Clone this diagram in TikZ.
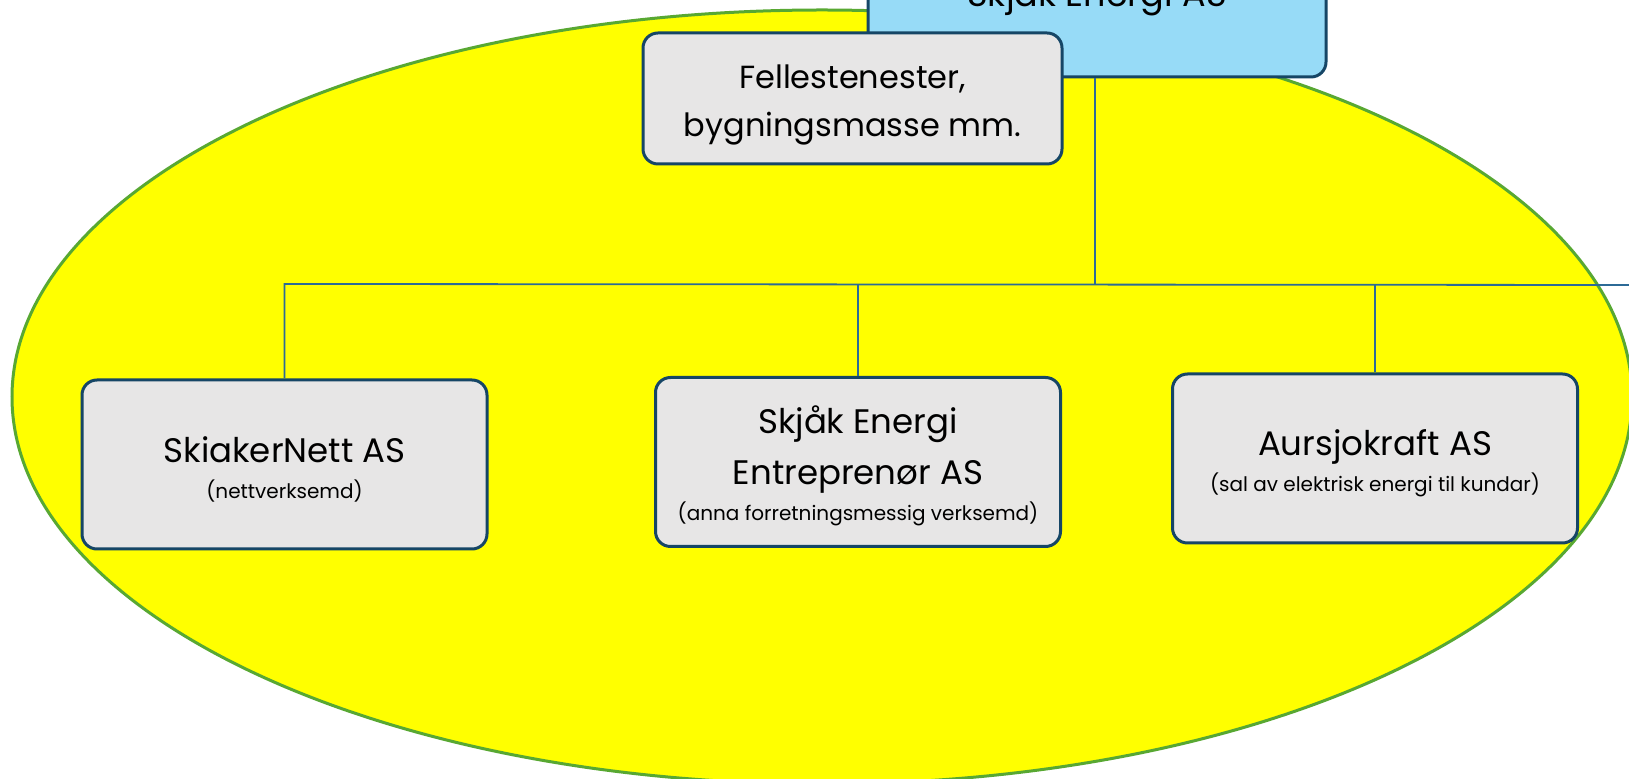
\documentclass[tikz,border=0pt]{standalone}
\usepackage{fontspec}
\setmainfont{Poppins}
\definecolor{ovalfill}{HTML}{FFFF00}
\definecolor{ovalline}{HTML}{58A832}
\definecolor{boxline}{HTML}{164666}
\definecolor{boxfill}{HTML}{E7E6E6}
\definecolor{topfill}{HTML}{97DBF7}
\definecolor{linkcol}{HTML}{2C6A96}
\newcommand{\mainfont}{\fontsize{17}{25.5}\selectfont}
\newcommand{\subfont}{\fontsize{10}{14}\selectfont}
\newcommand{\lift}{\rule{0pt}{18pt}}
\tikzset{
  unit/.style = {draw = boxline, line width = 1.5pt, fill = boxfill, rounded corners = 7.5pt,
    align = center, text = black, font = \mainfont, inner sep = 0pt},
  company/.style = {unit, minimum width = 202.5pt, minimum height = 84.5pt},
  link/.style = {draw = linkcol, line width = 0.9pt}
}
\begin{document}
\begin{tikzpicture}[x = 0.5pt, y = -0.5pt]
\clip (0,0) rectangle (1629,779);
\fill[white] (0,0) rectangle (1629,779);
% background oval
\draw[fill = ovalfill, draw = ovalline, line width = 1.5pt] (822,397) ellipse [x radius = 810, y radius = 387];
% top of the chart
\node[unit, fill = topfill, minimum width = 229pt, minimum height = 84pt, font = \fontsize{17.5}{25}\selectfont] (energi) at (1097,-7) {\lift Skjåk Energi AS};
\node[unit, minimum width = 209.5pt, minimum height = 65.5pt, font = \fontsize{16}{24}\selectfont] (felles) at (852.5,98.5) {\lift Fellestenester,\\bygningsmasse mm.};
% companies
\node[company] (nett) at (284.5,464.5) {\lift SkiakerNett AS\\[-7.5pt]{\subfont (nettverksemd)}};
\node[company] (entr) at (858,462) {\lift Skjåk Energi\\Entreprenør AS\\[-7.5pt]{\subfont (anna forretningsmessig verksemd)}};
\node[company] (aursjo) at (1375,458.5) {\lift Aursjokraft AS\\[-7.5pt]{\subfont (sal av elektrisk energi til kundar)}};
% connectors
\coordinate (bus) at (1095,284);
\coordinate (busend) at (1640,285);
\draw[link] (energi.south -| bus) -- (bus);
\draw[link] (nett.north) -- (nett.north |- bus) -- (busend);
\foreach \n in {entr, aursjo}
  \draw[link] (\n.north) -- (\n.north |- bus);
\end{tikzpicture}
\end{document}
